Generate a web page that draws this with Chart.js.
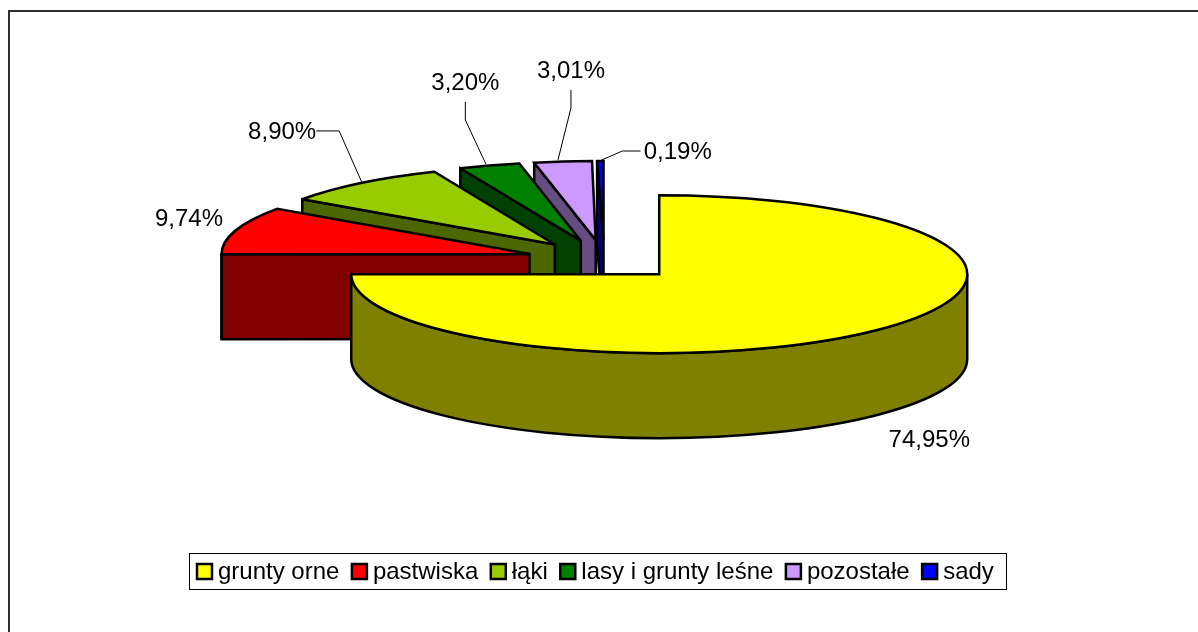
<!DOCTYPE html>
<html lang="pl">
<head>
<meta charset="utf-8">
<title>Struktura użytkowania gruntów</title>
<script src="https://cdn.jsdelivr.net/npm/chart.js@4/dist/chart.umd.min.js"></script>
<style>
html,body{margin:0;padding:0;background:#fff;overflow:hidden}
canvas{display:block}
</style>
</head>
<body>
<canvas id="c" width="1198" height="632"></canvas>
<script>
const categories = ['grunty orne','pastwiska','łąki','lasy i grunty leśne','pozostałe','sady'];
const shares = [74.95, 9.74, 8.90, 3.20, 3.01, 0.19];
const topColors = ['#FFFF00','#FF0000','#99CC00','#008000','#CC99FF','#0000FF'];
const sideColors = ['#808000','#800000','#4C6600','#004000','#664C80','#000080'];

const FLATTEN = 0.2565, DEPTH = 85, RADIUS = 308, EXPLODE = 78;
const MIN_SWEEP = 1.2 * Math.PI / 180; // hairline slices stay visible inside their outline
const FONT = '24px "Liberation Sans", Arial, sans-serif';

// label position and leader line, relative to the outer midpoint of each slice
const labelOffsets = [[52,109],[-46.6,-12.5],[-78.6,-52.2],[-24,-83.5],[8,-91.6],[76,-10]];
const leaderOffsets = [null,null,
  [[1,-1],[-21.6,-52.2],[-44.6,-52.2]],
  [[-3.5,-1.5],[-24,-45.5],[-24,-63.5]],
  [[-5,-1.5],[8,-53.6],[8,-71.6]],
  [[0,-1],[20.7,-10],[39,-10]]];

function sliceFrame(arc){
  const p = arc.getProps(['x','y','startAngle','endAngle','outerRadius']);
  const mid = (p.startAngle + p.endAngle) / 2;
  const off = arc.options.offset;
  return {
    sa:Math.min(p.startAngle, p.endAngle - MIN_SWEEP), ea:p.endAngle, mid, R:p.outerRadius,
    cx:p.x + Math.cos(mid)*off,
    cy:p.y + Math.sin(mid)*off*FLATTEN
  };
}
function edgePoint(f,t){return [f.cx + Math.cos(t)*f.R, f.cy + Math.sin(t)*f.R*FLATTEN];}
function finish(ctx,fill){
  ctx.fillStyle = fill; ctx.fill();
  ctx.lineWidth = 2.5; ctx.strokeStyle = '#000'; ctx.lineJoin = 'miter'; ctx.miterLimit = 3; ctx.stroke();
}
function radialFace(ctx,f,t,fill){
  const [x,y] = edgePoint(f,t);
  ctx.beginPath();
  ctx.moveTo(f.cx,f.cy); ctx.lineTo(x,y); ctx.lineTo(x,y+DEPTH); ctx.lineTo(f.cx,f.cy+DEPTH);
  ctx.closePath();
  finish(ctx,fill);
}
function outerWall(ctx,f,fill){
  const a = Math.max(f.sa,0), b = Math.min(f.ea,Math.PI);
  if (b <= a) return;
  ctx.beginPath();
  ctx.ellipse(f.cx,f.cy,f.R,f.R*FLATTEN,0,a,b);
  ctx.ellipse(f.cx,f.cy+DEPTH,f.R,f.R*FLATTEN,0,b,a,true);
  ctx.closePath();
  finish(ctx,fill);
}
function topFace(ctx,f,fill){
  ctx.beginPath();
  ctx.moveTo(f.cx,f.cy);
  ctx.ellipse(f.cx,f.cy,f.R,f.R*FLATTEN,0,f.sa,f.ea);
  ctx.closePath();
  finish(ctx,fill);
}

const pie3d = {
  id:'pie3d',
  beforeDraw(chart){
    const ctx = chart.ctx;
    ctx.save();
    ctx.strokeStyle = '#303030'; ctx.lineWidth = 2;
    ctx.beginPath();
    ctx.moveTo(9,chart.height); ctx.lineTo(9,11); ctx.lineTo(chart.width,11);
    ctx.stroke();
    ctx.restore();
  },
  beforeDatasetDraw(chart,args){
    const ctx = chart.ctx, arcs = args.meta.data;
    ctx.save();
    for (let i = arcs.length-1; i >= 0; i--){
      const f = sliceFrame(arcs[i]);
      if (Math.cos(f.sa) < -1e-6) radialFace(ctx,f,f.sa,sideColors[i]);
      if (Math.cos(f.ea) > 1e-6) radialFace(ctx,f,f.ea,sideColors[i]);
      outerWall(ctx,f,sideColors[i]);
      topFace(ctx,f,topColors[i]);
    }
    ctx.restore();
    return false;
  },
  afterDraw(chart){
    const ctx = chart.ctx, arcs = chart.getDatasetMeta(0).data;
    ctx.save();
    ctx.font = FONT; ctx.textBaseline = 'middle'; ctx.textAlign = 'center'; ctx.fillStyle = '#000';
    arcs.forEach((arc,i)=>{
      const f = sliceFrame(arc);
      const ax = f.cx + Math.cos(f.mid)*f.R, ay = f.cy + Math.sin(f.mid)*f.R*FLATTEN;
      const text = shares[i].toFixed(2).replace('.',',') + '%';
      ctx.fillText(text, ax + labelOffsets[i][0], ay + labelOffsets[i][1] + 1);
      const pts = leaderOffsets[i];
      if (pts){
        ctx.beginPath();
        pts.forEach((p,k)=> k ? ctx.lineTo(ax+p[0],ay+p[1]) : ctx.moveTo(ax+p[0],ay+p[1]));
        ctx.lineWidth = 1; ctx.strokeStyle = '#000'; ctx.stroke();
      }
    });
    // legend
    const lx = 189.5, ly = 553.5, lw = 817, lh = 36;
    ctx.lineWidth = 1; ctx.strokeStyle = '#000'; ctx.fillStyle = '#fff';
    ctx.fillRect(lx,ly,lw,lh); ctx.strokeRect(lx,ly,lw,lh);
    ctx.textAlign = 'left';
    let x = 197;
    categories.forEach((name,i)=>{
      ctx.fillStyle = topColors[i]; ctx.fillRect(x,564,15,15);
      ctx.lineWidth = 2.5; ctx.strokeStyle = '#000'; ctx.strokeRect(x,564,15,15);
      ctx.fillStyle = '#000';
      ctx.fillText(name, x+21, 572);
      x += 21 + ctx.measureText(name).width + 12.5;
    });
    ctx.restore();
  }
};

new Chart(document.getElementById('c'),{
  type:'pie',
  plugins:[pie3d],
  data:{
    labels:categories,
    datasets:[{data:shares, backgroundColor:topColors, borderColor:'#000', borderWidth:2, offset:EXPLODE}]
  },
  options:{
    responsive:false, animation:false,
    radius:RADIUS,
    layout:{padding:{left:10,right:0,top:0,bottom:112}},
    plugins:{legend:{display:false},tooltip:{enabled:false},title:{display:false}}
  }
});
</script>
</body>
</html>
